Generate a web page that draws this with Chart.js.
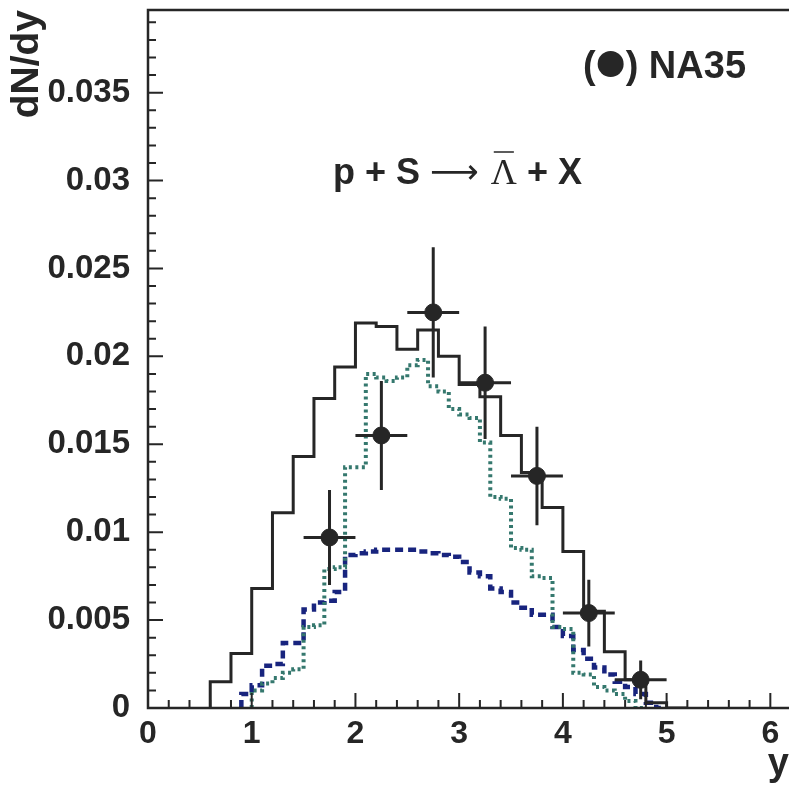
<!DOCTYPE html>
<html>
<head>
<meta charset="utf-8">
<script src="https://cdn.jsdelivr.net/npm/chart.js@4.4.1/dist/chart.umd.min.js"></script>
<style>
  html, body { margin: 0; padding: 0; background: #fff; }
</style>
</head>
<body>
<canvas id="chart" width="789" height="787"></canvas>
<script>
// full model histogram (solid), bins of 0.2 starting at y = 0.6
const solidStart = 0.6;
const solidWidth = 0.2;
const solidValues = [
  0.0005, 0.0015, 0.0031, 0.0068, 0.0111, 0.0143, 0.0176, 0.0194,
  0.0219, 0.0217, 0.0204, 0.0215, 0.0200, 0.0184, 0.0177, 0.0155,
  0.0134, 0.0114, 0.0089, 0.0055, 0.0032, 0.0016, 0.0003,
];

// dotted teal histogram, bins of 0.1 starting at y = 1.0
const tealStart = 1.0;
const tealWidth = 0.1;
const tealValues = [
  0.0005, 0.0010, 0.0014, 0.0017, 0.0020, 0.0022, 0.0046, 0.0047,
  0.0079, 0.0080, 0.0137, 0.0137, 0.0190, 0.0188, 0.0186, 0.0188,
  0.0195, 0.0198, 0.0183, 0.0180, 0.0170, 0.0167, 0.0165, 0.0151,
  0.0120, 0.0119, 0.0091, 0.0090, 0.0075, 0.0074, 0.0046, 0.0045,
  0.0020, 0.0019, 0.0012, 0.0010, 0.0008, 0.0004,
];

// dashed blue histogram, bins of 0.1 starting at y = 0.9
const blueStart = 0.9;
const blueWidth = 0.1;
const blueValues = [
  0.0005, 0.0008, 0.0013, 0.0024, 0.0025, 0.0037, 0.0037, 0.0056,
  0.0060, 0.0061, 0.0066, 0.0087, 0.0088, 0.0089, 0.0090, 0.0090,
  0.0090, 0.0090, 0.0089, 0.0088, 0.0087, 0.0086, 0.0083, 0.0077,
  0.0075, 0.0068, 0.0066, 0.0060, 0.0057, 0.0053, 0.0053, 0.0046,
  0.0041, 0.0033, 0.0028, 0.0023, 0.0019, 0.0015, 0.0012, 0.0008,
  0.0003,
];

// NA35 data points
const pointX = [1.75, 2.25, 2.75, 3.25, 3.75, 4.25, 4.75];
const pointY = [0.0097, 0.0155, 0.0225, 0.0185, 0.0132, 0.0054, 0.0016];
const pointErr = [0.0027, 0.0031, 0.0037, 0.0032, 0.0028, 0.0019, 0.0011];
const pointHalfBin = 0.25;

const xTicks = [0, 1, 2, 3, 4, 5, 6];
const yTicks = [0, 0.005, 0.01, 0.015, 0.02, 0.025, 0.03, 0.035];

const ink = "#262626";
const sans = "'Liberation Sans', Arial, sans-serif";

const histPoints = (start, width, values) => {
  const pts = [{ x: start, y: 0 }];
  values.forEach((v, i) => pts.push({ x: +(start + i * width).toFixed(3), y: v }));
  pts.push({ x: +(start + values.length * width).toFixed(3), y: 0 });
  return pts;
};

const errorBarPoints = () => {
  const pts = [];
  pointX.forEach((x, i) => {
    const y = pointY[i];
    pts.push({ x: x - pointHalfBin, y }, { x: x + pointHalfBin, y }, { x, y: null });
    pts.push({ x, y: y - pointErr[i] }, { x, y: y + pointErr[i] }, { x, y: null });
  });
  return pts;
};

// frame + inward ticks + text labels
const decorations = {
  id: "decorations",
  afterDraw(chart) {
    const { ctx, chartArea: a, scales } = chart;
    const xs = scales.x;
    const ys = scales.y;
    ctx.save();
    ctx.strokeStyle = ink;
    ctx.lineWidth = 2.5;
    ctx.beginPath();
    ctx.moveTo(chart.width, a.top);
    ctx.lineTo(a.left, a.top);
    ctx.lineTo(a.left, a.bottom);
    ctx.lineTo(chart.width, a.bottom);
    ctx.stroke();

    ctx.lineWidth = 2;
    ctx.beginPath();
    for (let i = 0; i <= 31; i++) {
      const px = xs.getPixelForValue(i * 0.2);
      if (px > a.right) break;
      const len = i % 5 === 0 ? 15 : 8;
      ctx.moveTo(px, a.bottom);
      ctx.lineTo(px, a.bottom - len);
    }
    for (let i = 0; i <= 40; i++) {
      const py = ys.getPixelForValue(i * 0.001);
      if (py < a.top) break;
      const len = i % 5 === 0 ? 15 : 8;
      ctx.moveTo(a.left, py);
      ctx.lineTo(a.left + len, py);
    }
    ctx.stroke();

    // legend-like label
    ctx.fillStyle = ink;
    ctx.textBaseline = "alphabetic";
    ctx.font = `bold 38px ${sans}`;
    let x = 583;
    const by = 78;
    ctx.fillText("(", x, by);
    x += ctx.measureText("(").width + 2;
    ctx.beginPath();
    ctx.arc(x + 13, by - 14, 13, 0, Math.PI * 2);
    ctx.fill();
    x += 28;
    ctx.fillText(") NA35", x, by);

    // reaction label
    const ry = 184;
    x = 333;
    const bold = `bold 36px ${sans}`;
    ctx.font = bold;
    ctx.fillText("p + S", x, ry);
    x += ctx.measureText("p + S").width + 10;
    ctx.font = "34px 'DejaVu Sans', sans-serif";
    ctx.fillText("\u27F6", x, ry - 1);
    x += ctx.measureText("\u27F6").width + 12;
    ctx.font = "36px 'Liberation Serif', serif";
    ctx.fillText("\u039B", x, ry);
    const lw = ctx.measureText("\u039B").width;
    ctx.lineWidth = 1.5;
    ctx.beginPath();
    ctx.moveTo(x + 3, ry - 32);
    ctx.lineTo(x + lw - 3, ry - 32);
    ctx.stroke();
    x += lw;
    ctx.font = bold;
    ctx.fillText(" + X", x, ry);
    ctx.restore();
  },
};

new Chart(document.getElementById("chart"), {
  type: "line",
  data: {
    datasets: [
      {
        label: "NA35",
        data: pointX.map((x, i) => ({ x, y: pointY[i] })),
        showLine: false,
        pointRadius: 8.5,
        pointBackgroundColor: ink,
        pointBorderColor: ink,
        order: 0,
      },
      {
        label: "errors",
        data: errorBarPoints(),
        borderColor: ink,
        borderWidth: 3,
        pointRadius: 0,
        spanGaps: false,
        order: 1,
      },
      {
        label: "total",
        data: histPoints(solidStart, solidWidth, solidValues),
        stepped: "after",
        borderColor: ink,
        borderWidth: 3,
        pointRadius: 0,
        order: 2,
      },
      {
        label: "teal",
        data: histPoints(tealStart, tealWidth, tealValues),
        stepped: "after",
        borderColor: "#35786e",
        borderWidth: 4,
        borderDash: [3, 3.5],
        pointRadius: 0,
        order: 3,
      },
      {
        label: "blue",
        data: histPoints(blueStart, blueWidth, blueValues),
        stepped: "after",
        borderColor: "#18247e",
        borderWidth: 4.5,
        borderDash: [8, 5],
        pointRadius: 0,
        order: 4,
      },
    ],
  },
  options: {
    responsive: false,
    animation: false,
    layout: { autoPadding: false, padding: { top: 10, right: 0, left: 0, bottom: 0 } },
    plugins: { legend: { display: false }, tooltip: { enabled: false } },
    scales: {
      x: {
        type: "linear",
        min: 0,
        max: 6.18,
        afterFit: (scale) => {
          scale.height = 79;
          scale.paddingLeft = 0;
          scale.paddingRight = 0;
        },
        afterBuildTicks: (scale) => { scale.ticks = xTicks.map((value) => ({ value })); },
        grid: { display: false, drawTicks: false },
        border: { display: false },
        ticks: {
          padding: 7,
          color: ink,
          font: { family: sans, size: 32, weight: "bold" },
        },
        title: {
          display: true,
          text: "y",
          align: "end",
          color: ink,
          padding: 0,
          font: { family: sans, size: 38, weight: "bold" },
        },
      },
      y: {
        min: 0,
        max: 0.0397,
        afterFit: (scale) => {
          scale.width = 148;
          scale.paddingTop = 0;
          scale.paddingBottom = 0;
        },
        afterBuildTicks: (scale) => { scale.ticks = yTicks.map((value) => ({ value })); },
        grid: { display: false, drawTicks: false },
        border: { display: false },
        ticks: {
          padding: 18,
          color: ink,
          callback: (v) => String(+v.toFixed(4)),
          font: { family: sans, size: 33, weight: "bold" },
        },
        title: {
          display: true,
          text: "dN/dy",
          align: "end",
          color: ink,
          padding: { top: 4, bottom: 0 },
          font: { family: sans, size: 39, weight: "bold" },
        },
      },
    },
  },
  plugins: [decorations],
});
</script>
</body>
</html>
